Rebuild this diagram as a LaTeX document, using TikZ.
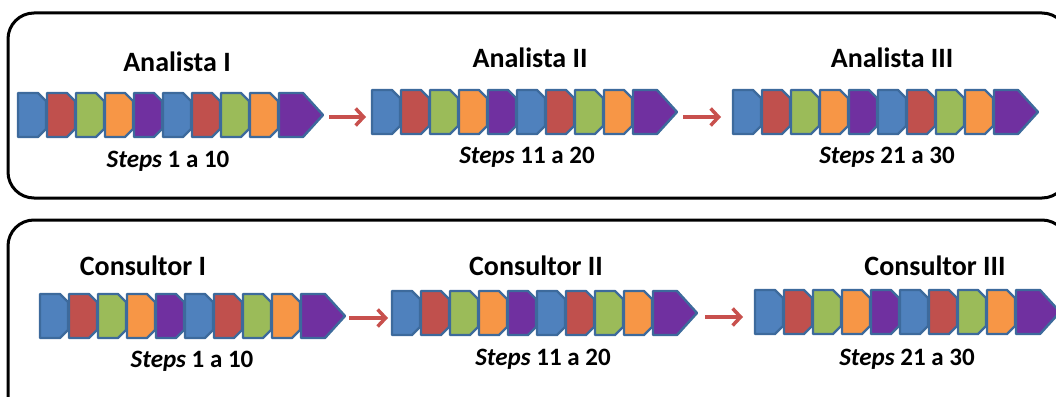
\documentclass[tikz,border=0pt]{standalone}
\usepackage{fontspec}
\setmainfont{Carlito}
\usetikzlibrary{arrows.meta}

\definecolor{cb}{HTML}{4F81BD}
\definecolor{cr}{HTML}{C0504D}
\definecolor{cg}{HTML}{9BBB59}
\definecolor{co}{HTML}{F79646}
\definecolor{cp}{HTML}{7030A0}
\definecolor{edge}{HTML}{3D6A9C}
\definecolor{flowred}{HTML}{C8504D}

% one row of ten step blocks; #1 name, #2 left x, #3 centre y
\newcommand\chainrow[3]{%
  \foreach \c [count=\i from 0] in {cb,cr,cg,co,cp,cb,cr,cg,co}{%
    \begin{scope}[shift={(#2+\i*29,#3)}]
      \filldraw[stepblock, fill=\c] (0,-22) -- (20,-22) -- (28,-14) -- (28,14)
        -- (20,22) -- (0,22) -- cycle;
    \end{scope}
  }%
  \begin{scope}[shift={(#2+261,#3)}]
    \filldraw[stepblock, fill=cp] (0,-22) -- (24,-22) -- (44,0) -- (24,22)
      -- (0,22) -- cycle;
  \end{scope}
  \node[inner sep=0pt, minimum width=305pt, minimum height=44pt, anchor=west]
    (#1) at (#2,#3) {};
}

\begin{document}
\begin{tikzpicture}[x=1pt, y=-1pt,
  stepblock/.style={draw=edge, line width=2.4pt, line join=round},
  panel/.style={draw=black, line width=3pt, rounded corners=26pt},
  rowtitle/.style={anchor=base, inner sep=0pt, font=\fontsize{28}{30}\selectfont\bfseries},
  steplabel/.style={anchor=base, inner sep=0pt, font=\fontsize{25}{28}\selectfont\bfseries},
  flow/.style={draw=flowred, line width=3.5pt,
    -{Straight Barb[length=8pt, width=17pt]}}]
  \useasboundingbox (0,0) rectangle (1056,396);
  \clip (0,0) rectangle (1056,396);

  % panels
  \draw[panel] (8,13) rectangle (1068,198);
  \draw[panel] (8,220) rectangle (1068,424);

  % analyst rows
  \chainrow{a1}{18}{115}
  \chainrow{a2}{372}{112}
  \chainrow{a3}{733}{112}
  \node[rowtitle] (ta1) at (177,71) {Analista I};
  \node[rowtitle] (ta2) at (530,67) {Analista II};
  \node[rowtitle] (ta3) at (892,67) {Analista III};
  \node[steplabel] (sa1) at (168,167) {\textit{Steps} 1 a 10};
  \node[steplabel] (sa2) at (527,163) {\textit{Steps} 11 a 20};
  \node[steplabel] (sa3) at (887,163) {\textit{Steps} 21 a 30};
  \draw[flow] ([xshift=6pt,yshift=-2pt]a1.east) -- ([xshift=-6pt,yshift=-2pt]a2.west |- a1.east);
  \draw[flow] ([xshift=6pt,yshift=-5pt]a2.east) -- ([xshift=-12pt,yshift=-5pt]a3.west |- a2.east);

  % consultant rows
  \chainrow{c1}{40}{316}
  \chainrow{c2}{392}{313}
  \chainrow{c3}{755}{312}
  \node[rowtitle] (tc1) at (143,275) {Consultor I};
  \node[rowtitle] (tc2) at (536,275) {Consultor II};
  \node[rowtitle] (tc3) at (935,275) {Consultor III};
  \node[steplabel] (sc1) at (192,367) {\textit{Steps} 1 a 10};
  \node[steplabel] (sc2) at (543,365) {\textit{Steps} 11 a 20};
  \node[steplabel] (sc3) at (907,365) {\textit{Steps} 21 a 30};
  \draw[flow] ([xshift=4pt,yshift=-2pt]c1.east) -- ([xshift=-4pt,yshift=-2pt]c2.west |- c1.east);
  \draw[flow] ([xshift=8pt,yshift=-4pt]c2.east) -- ([xshift=-12pt,yshift=-4pt]c3.west |- c2.east);
\end{tikzpicture}
\end{document}
